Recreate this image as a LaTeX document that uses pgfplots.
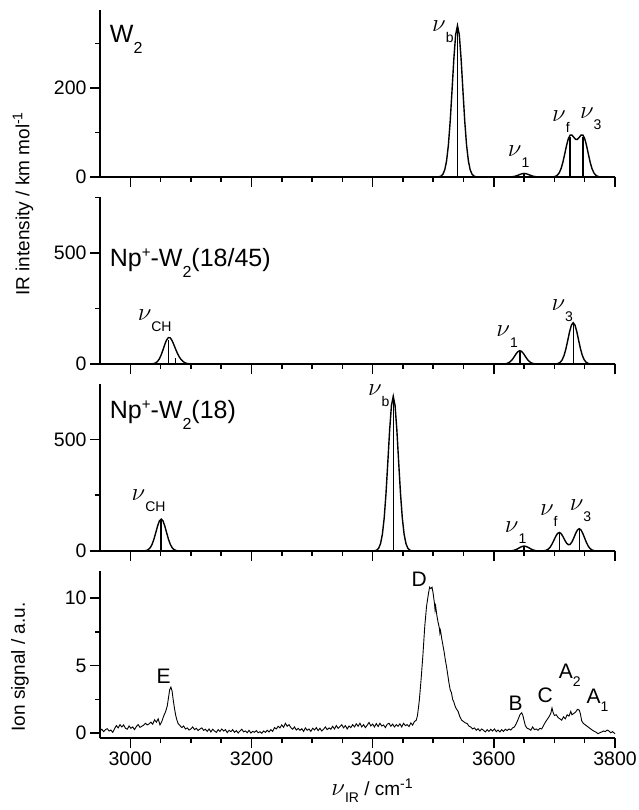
\documentclass[border=0pt]{standalone}
\usepackage{fontspec}
\setmainfont{Liberation Sans}
\usepackage{pgfplots}
\pgfplotsset{compat=1.18}

% subscript / superscript helpers (sans, lowered / raised)
\newcommand{\sub}[2][-10pt]{\raisebox{#1}{\fontsize{14}{15}\selectfont #2}}
\newcommand{\sups}[2][8pt]{\raisebox{#1}{\fontsize{14}{15}\selectfont #2}}
\newcommand{\bigsub}[1]{\raisebox{-11pt}{\fontsize{16}{17}\selectfont #1}}
\newcommand{\bigsup}[1]{\raisebox{9pt}{\fontsize{15}{16}\selectfont #1}}
\newcommand{\nul}[1]{{\fontsize{28}{30}\selectfont$\nu$}\sub[-11pt]{#1}}

\pgfplotsset{
  spec/.style={
    scale only axis, width=515pt, height=167pt,
    xmin=2950, xmax=3800,
    axis x line=bottom, axis y line=left,
    axis line style={-, line width=1.8pt},
    every outer x axis line/.append style={-},
    every outer y axis line/.append style={-},
    tick align=outside,
    major tick length=10pt, minor tick length=5pt,
    major tick style={black, line width=1.5pt},
    minor tick style={black, line width=1.5pt},
    xtick={3000,3200,3400,3600,3800},
    minor xtick={3050,3100,3150,3250,3300,3350,3450,3500,3550,3650,3700,3750},
    tick label style={font=\fontsize{19.5}{22}\selectfont},
    /pgf/number format/assume math mode=true,
    /pgf/number format/1000 sep={},
    scaled ticks=false,
    clip=false,
    anchor=south west,
  },
  env/.style={black, line width=1.4pt, no marks},
  stick/.style={black, line width=1.4pt, ycomb, no marks},
}
\tikzset{
  lab/.style={inner sep=0pt, font=\fontsize{21}{24}\selectfont},
  name/.style={inner sep=0pt, font=\fontsize{25}{28}\selectfont},
}

\begin{document}
\begin{tikzpicture}

% ---------------- W2 ----------------
\begin{axis}[spec, at={(100pt,-177pt)}, ymin=0, ymax=375,
  ytick={0,200}, minor ytick={100,300}, xticklabels={}]
\addplot[env] coordinates {
 (2950,0)(3507,0)(3510,0.7)(3513,2.2)(3516,6.3)(3519,16.1)(3522,36.1)(3525,71.6)
 (3528,125.5)(3531,194.1)(3534,265.0)(3537,319.5)(3540,340)(3543,319.5)(3546,265.0)
 (3549,194.1)(3552,125.5)(3555,71.6)(3558,36.1)(3561,16.1)(3564,6.3)(3567,2.2)(3570,0.7)(3573,0)
 (3623,0)(3626,0.15)(3629,0.4)(3632,0.85)(3635,1.7)(3638,3.0)(3641,4.6)(3644,6.2)(3647,7.5)
 (3650,8)(3653,7.5)(3656,6.2)(3659,4.6)(3662,3.0)(3665,1.7)(3668,0.85)(3671,0.4)(3674,0.15)(3677,0)
 (3693,0)(3696,0.18)(3699,0.58)(3702,1.67)(3705,4.26)(3708,9.56)(3711,18.97)(3714,33.27)
 (3717,51.56)(3720,70.73)(3723,86.24)(3726,94.26)(3729,94.12)(3732,89.12)(3735,84.6)
 (3738,84.6)(3741,89.12)(3744,94.12)(3747,94.26)(3750,86.24)(3753,70.73)(3756,51.56)
 (3759,33.27)(3762,18.97)(3765,9.56)(3768,4.26)(3771,1.67)(3774,0.58)(3777,0.18)(3780,0)(3800,0)
};
\addplot[stick] coordinates {(3540,340)(3650,8)(3726,90)(3747,90)};
\node[name, anchor=north west] at (rel axis cs:0.019,0.91) {W\bigsub{2}};
\node[lab, anchor=south west] at (axis cs:3498,301) {\nul{b}};
\node[lab, anchor=south west] at (axis cs:3623,22) {\nul{1}};
\node[lab, anchor=south west] at (axis cs:3696,99) {\nul{f}};
\node[lab, anchor=south west] at (axis cs:3742,105) {\nul{3}};
\end{axis}

% ---------------- Np+-W2(18/45) ----------------
\begin{axis}[spec, at={(100pt,-364pt)}, ymin=0, ymax=752,
  ytick={0,500}, minor ytick={250,750}, xticklabels={}]
\addplot[env] coordinates {
 (2950,0)(3030,0)(3033,0.2)(3036,0.7)(3039,2.05)(3042,5.2)(3045,11.7)(3048,23.3)(3051,41.1)
 (3054,64.0)(3057,88.4)(3060,108.6)(3063,119.2)(3066,117.6)(3069,105.2)(3072,86.3)(3075,65.6)
 (3078,46.7)(3081,31.2)(3084,19.5)(3087,11.3)(3090,6.0)(3093,2.9)(3096,1.2)(3099,0.5)(3102,0.16)(3105,0)
 (3613,0)(3616,0.4)(3619,1.1)(3622,2.8)(3625,6.4)(3628,12.6)(3631,22.1)(3634,34.3)(3637,46.8)
 (3640,56.4)(3643,60)(3646,56.4)(3649,46.8)(3652,34.3)(3655,22.1)(3658,12.6)(3661,6.4)(3664,2.8)
 (3667,1.1)(3670,0.4)(3673,0)
 (3698,0)(3701,0.4)(3704,1.2)(3707,3.5)(3710,8.8)(3713,19.8)(3716,39.2)(3719,68.7)(3722,106.2)
 (3725,145.0)(3728,174.8)(3731,186)(3734,174.8)(3737,145.0)(3740,106.2)(3743,68.7)(3746,39.2)
 (3749,19.8)(3752,8.8)(3755,3.5)(3758,1.2)(3761,0.4)(3764,0)(3800,0)
};
\addplot[stick] coordinates {(3063,110)(3075,25)(3643,60)(3731,186)};
\node[name, anchor=base west] at (axis cs:2966,437) {Np\bigsup{+}-W\bigsub{2}(18/45)};
\node[lab, anchor=south west] at (axis cs:3012,145) {\nul{CH}};
\node[lab, anchor=south west] at (axis cs:3604,75) {\nul{1}};
\node[lab, anchor=south west] at (axis cs:3695,190) {\nul{3}};
\end{axis}

% ---------------- Np+-W2(18) ----------------
\begin{axis}[spec, at={(100pt,-551pt)}, ymin=0, ymax=748,
  ytick={0,500}, minor ytick={250,750}, xticklabels={}]
\addplot[env] coordinates {
 (2950,0)(3018,0)(3021,0.3)(3024,0.9)(3027,2.7)(3030,6.8)(3033,15.2)(3036,30.1)(3039,52.8)
 (3042,81.6)(3045,111.5)(3048,134.4)(3051,143)(3054,134.4)(3057,111.5)(3060,81.6)(3063,52.8)
 (3066,30.1)(3069,15.2)(3072,6.8)(3075,2.7)(3078,0.9)(3081,0.3)(3084,0)
 (3398,0)(3401,0.4)(3404,1.4)(3407,4.4)(3410,12.9)(3413,32.8)(3416,73.6)(3419,146.0)(3422,255.8)
 (3425,395.6)(3428,540.2)(3431,651.1)(3434,693)(3437,651.1)(3440,540.2)(3443,395.6)(3446,255.8)
 (3449,146.0)(3452,73.6)(3455,32.8)(3458,12.9)(3461,4.4)(3464,1.4)(3467,0.4)(3470,0)
 (3623,0)(3626,0.4)(3629,1.0)(3632,2.3)(3635,4.6)(3638,8.1)(3641,12.6)(3644,17.1)(3647,20.7)
 (3650,22)(3653,20.7)(3656,17.1)(3659,12.6)(3662,8.1)(3665,4.6)(3668,2.3)(3671,1.0)(3674,0.4)
 (3677,0.2)(3678,0.17)(3681,0.53)(3684,1.54)(3687,3.93)(3690,8.81)(3693,17.5)(3696,30.6)
 (3699,47.4)(3702,64.7)(3705,78.0)(3708,83.05)(3711,78.2)(3714,65.3)(3717,49.2)(3720,35.4)
 (3723,28.1)(3726,29.9)(3729,40.8)(3732,58.6)(3735,78.5)(3738,94.1)(3741,100)(3744,93.96)
 (3747,77.95)(3750,57.09)(3753,36.91)(3756,21.07)(3759,10.62)(3762,4.73)(3765,1.86)(3768,0.64)
 (3771,0.2)(3774,0)(3800,0)
};
\addplot[stick] coordinates {(3051,143)(3434,693)(3650,22)(3708,83)(3741,100)};
\node[name, anchor=base west] at (axis cs:2966,592) {Np\bigsup{+}-W\bigsub{2}(18)};
\node[lab, anchor=south west] at (axis cs:3002,175) {\nul{CH}};
\node[lab, anchor=south west] at (axis cs:3392,647) {\nul{b}};
\node[lab, anchor=south west] at (axis cs:3618,31) {\nul{1}};
\node[lab, anchor=south west] at (axis cs:3676,108) {\nul{f}};
\node[lab, anchor=south west] at (axis cs:3725,131) {\nul{3}};
\end{axis}

% ---------------- experiment ----------------
\begin{axis}[spec, at={(100pt,-738pt)}, ymin=-0.37, ymax=12,
  ytick={0,5,10}, minor ytick={2.5,7.5}]
\addplot[black, line width=0.9pt, no marks] coordinates {
 (2950,0.15)(2953,0.28)(2956,0.1)(2959,0.25)(2962,0.32)(2965,0.15)(2968,0.22)(2971,0.05)
 (2974,0.32)(2977,0.55)(2980,0.38)(2983,0.62)(2986,0.45)(2989,0.6)(2992,0.35)(2995,0.28)
 (2998,0.52)(3001,0.35)(3004,0.45)(3007,0.25)(3010,0.48)(3013,0.62)(3016,0.42)(3019,0.5)
 (3022,0.58)(3025,0.72)(3028,0.6)(3031,0.68)(3034,0.8)(3037,0.65)(3040,0.98)(3043,0.8)
 (3046,1.05)(3049,0.6)(3052,0.85)(3055,1.25)(3058,1.55)(3061,2.0)(3063,2.6)(3065,3.2)
 (3067,3.4)(3069,3.1)(3071,2.4)(3073,1.8)(3075,1.3)(3077,0.95)(3079,0.7)(3082,0.55)
 (3085,0.4)(3088,0.52)(3091,0.3)(3094,0.38)(3097,0.22)(3100,0.3)(3103,0.45)(3106,0.25)
 (3109,0.35)(3112,0.18)(3115,0.3)(3118,0.38)(3121,0.2)(3124,0.28)(3127,0.12)(3130,0.3)
 (3133,0.08)(3136,0.28)(3139,0.15)(3142,0.05)(3145,0.25)(3148,0.12)(3151,0.3)(3154,0.15)
 (3157,0.25)(3160,0.03)(3163,0.2)(3166,0.1)(3169,0.25)(3172,0.05)(3175,0.18)(3178,0.0)
 (3181,0.15)(3184,0.28)(3187,0.08)(3190,0.15)(3193,0.02)(3196,0.2)(3199,0.0)(3202,0.12)
 (3205,0.05)(3208,0.18)(3211,0.02)(3214,0.1)(3217,-0.02)(3220,0.15)(3223,0.05)(3226,0.2)
 (3229,0.08)(3232,0.25)(3235,0.12)(3238,0.4)(3241,0.3)(3244,0.5)(3247,0.38)(3250,0.6)
 (3253,0.42)(3256,0.72)(3259,0.5)(3262,0.62)(3265,0.4)(3268,0.28)(3271,0.45)(3274,0.22)
 (3277,0.35)(3280,0.2)(3283,0.32)(3286,0.12)(3289,0.38)(3292,0.2)(3295,0.3)(3298,0.12)
 (3301,0.35)(3304,0.22)(3307,0.4)(3310,0.18)(3313,0.35)(3316,0.15)(3319,0.28)(3322,0.45)
 (3325,0.25)(3328,0.38)(3331,0.28)(3334,0.5)(3337,0.3)(3340,0.55)(3343,0.35)(3346,0.48)
 (3349,0.62)(3352,0.38)(3355,0.55)(3358,0.3)(3361,0.52)(3364,0.4)(3367,0.62)(3370,0.45)
 (3373,0.68)(3376,0.5)(3379,0.72)(3382,0.45)(3385,0.62)(3388,0.4)(3391,0.58)(3394,0.78)
 (3397,0.52)(3400,0.66)(3403,0.45)(3406,0.7)(3409,0.48)(3412,0.72)(3415,0.52)(3418,0.6)
 (3421,0.4)(3424,0.65)(3427,0.72)(3430,0.5)(3433,0.66)(3436,0.45)(3439,0.62)(3442,0.5)
 (3445,0.68)(3448,0.45)(3451,0.72)(3454,0.55)(3457,0.62)(3460,0.48)(3463,0.75)(3466,0.58)
 (3469,0.85)(3472,0.95)(3474,1.3)(3477,2.4)(3480,4.0)(3483,5.8)(3486,7.9)(3489,9.4)
 (3492,10.3)(3494,10.8)(3496,10.7)(3498,10.8)(3500,10.3)(3502,9.6)(3503,9.1)(3504,9.4)
 (3506,8.7)(3508,8.2)(3510,7.8)(3511,7.4)(3512,7.6)(3514,7.0)(3516,6.5)(3518,6.0)(3520,5.4)
 (3522,4.9)(3524,4.3)(3526,3.7)(3528,3.2)(3530,3.0)(3532,2.5)(3534,2.3)(3536,2.0)(3538,1.8)
 (3541,1.6)(3544,1.2)(3547,0.95)(3550,0.85)(3553,0.75)(3556,0.7)(3559,0.5)(3562,0.45)
 (3565,0.3)(3568,0.38)(3571,0.2)(3574,0.32)(3577,0.15)(3580,0.3)(3583,0.2)(3586,0.08)
 (3589,0.25)(3592,0.12)(3595,0.28)(3598,0.15)(3601,0.3)(3604,0.1)(3607,0.22)(3610,0.08)
 (3613,0.25)(3616,0.12)(3619,0.28)(3622,0.18)(3625,0.3)(3628,0.22)(3631,0.38)(3634,0.45)
 (3637,0.7)(3640,1.0)(3643,1.35)(3646,1.5)(3648,1.3)(3650,0.9)(3652,0.55)(3655,0.35)
 (3658,0.3)(3661,0.2)(3664,0.45)(3667,0.25)(3670,0.3)(3673,0.2)(3676,0.35)(3679,0.3)
 (3682,0.55)(3685,0.8)(3688,1.0)(3691,1.2)(3694,1.45)(3696,1.85)(3698,1.5)(3700,1.3)
 (3703,1.35)(3706,1.15)(3709,1.05)(3712,0.95)(3715,1.2)(3718,1.05)(3721,1.35)(3724,1.25)
 (3727,1.6)(3729,1.35)(3732,1.45)(3735,1.55)(3738,1.75)(3741,1.7)(3743,1.4)(3745,0.9)
 (3748,0.7)(3751,0.6)(3754,0.5)(3757,0.4)(3760,0.3)(3763,0.2)(3766,0.12)(3769,0.05)
 (3772,-0.05)(3775,0.02)(3778,0.08)(3781,0.15)(3784,0.1)(3787,0.22)(3790,0.15)(3793,0.02)
 (3796,0.1)(3800,-0.05)
};
\node[lab, anchor=south west] at (axis cs:3043,3.68) {E};
\node[lab, anchor=south west] at (axis cs:3464,10.84) {D};
\node[lab, anchor=south west] at (axis cs:3624,1.65) {B};
\node[lab, anchor=south west] at (axis cs:3672,2.2) {C};
\node[lab, anchor=base west] at (axis cs:3707,4.05) {A\sub[-8pt]{2}};
\node[lab, anchor=base west] at (axis cs:3753,2.2) {A\sub[-8pt]{1}};
\node[lab, anchor=base, font=\fontsize{19}{22}\selectfont] at ([yshift=-57pt]axis cs:3399,-0.37)
  {{\fontsize{24}{26}\selectfont$\nu$}\sub[-7pt]{IR} / cm\sups[7pt]{-1}};
\end{axis}

\node[rotate=90, inner sep=0pt, font=\fontsize{19}{22}\selectfont] at (23pt,-204pt)
  {IR intensity / km mol\sups[7pt]{-1}};
\node[rotate=90, inner sep=0pt, font=\fontsize{19}{22}\selectfont] at (20pt,-667pt)
  {Ion signal / a.u.};

\pgfresetboundingbox
\path (0pt,0pt) rectangle (638pt,-810pt);
\end{tikzpicture}
\end{document}
